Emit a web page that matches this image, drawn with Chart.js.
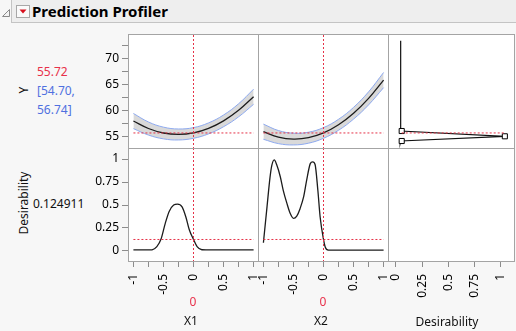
<!DOCTYPE html>
<html>
<head>
<meta charset="utf-8">
<title>Prediction Profiler</title>
<script src="https://cdn.jsdelivr.net/npm/chart.js@4.4.1/dist/chart.umd.min.js"></script>
<style>
  html, body { margin: 0; padding: 0; }
  body { width: 516px; height: 331px; background: #f7f7f7; position: relative; overflow: hidden;
         font-family: "Noto Sans", "Open Sans", sans-serif; font-size: 12px; color: #111; }
  .abs { position: absolute; white-space: nowrap; }
  .hdr { left: 11px; top: 0; width: 505px; height: 23px; background: #eeeeee; box-sizing: border-box;
         border-left: 1px solid #c4c4c4; border-bottom: 1px solid #c4c4c4; }
  .title { left: 32px; top: 0; font-weight: bold; font-size: 15px; line-height: 22px; color: #000; }
  .rot { transform: translate(-50%, -50%) rotate(-90deg); }
  .ctr { transform: translate(-50%, -50%); }
  .vmid { transform: translateY(-50%); }
  .red { color: #e8304a; }
  .blue { color: #4f70e0; }
  canvas { position: absolute; }
</style>
</head>
<body>
<div class="abs hdr"></div>
<svg class="abs" style="left:1px;top:8px" width="10" height="10"><polygon points="8.5,1.5 8.5,8.5 1.5,8.5" fill="#f4f4f4" stroke="#8a8a8a"/></svg>
<svg class="abs" style="left:16px;top:5px" width="14" height="13"><rect x="0.5" y="0.5" width="13" height="12" fill="#fafafa" stroke="#a8a8a8"/><polygon points="3.5,4.5 10.5,4.5 7,8.5" fill="#d8101e"/></svg>
<div class="abs title">Prediction Profiler</div>

<div class="abs rot" style="left:23px;top:90px">Y</div>
<div class="abs vmid red" style="left:37px;top:71px">55.72</div>
<div class="abs vmid blue" style="left:37px;top:90px">[54.70,</div>
<div class="abs vmid blue" style="left:37px;top:109px">56.74]</div>
<div class="abs rot" style="left:23px;top:203px">Desirability</div>
<div class="abs vmid" style="left:33px;top:203px">0.124911</div>

<canvas id="cA" width="179" height="115" style="left:80px;top:34px"></canvas>
<canvas id="cB" width="131" height="115" style="left:258px;top:34px"></canvas>
<canvas id="cC" width="127" height="115" style="left:388px;top:34px"></canvas>
<canvas id="cD" width="179" height="154" style="left:80px;top:148px"></canvas>
<canvas id="cE" width="131" height="154" style="left:258px;top:148px"></canvas>
<canvas id="cF" width="127" height="154" style="left:388px;top:148px"></canvas>

<div class="abs ctr red" style="left:193px;top:301px">0</div>
<div class="abs ctr" style="left:191px;top:320px">X1</div>
<div class="abs ctr red" style="left:323px;top:301px">0</div>
<div class="abs ctr" style="left:321px;top:320px">X2</div>
<div class="abs ctr" style="left:447px;top:321px">Desirability</div>

<script>
// current settings
const x1Now = 0;
const x2Now = 0;
const yNow = 55.72;
const desNow = 0.124911;

// factor grid for the response traces
const xGrid = [-1, -0.75, -0.5, -0.25, 0, 0.25, 0.5, 0.75, 1];
const yByX1 = [58.0, 56.57, 55.71, 55.43, 55.72, 56.59, 58.03, 60.05, 62.65];
const yByX1Hi = [59.45, 57.82, 56.83, 56.48, 56.74, 57.64, 59.15, 61.30, 64.10];
const yByX1Lo = [56.55, 55.32, 54.59, 54.38, 54.70, 55.54, 56.91, 58.80, 61.20];
const yByX2 = [55.96, 54.93, 54.55, 54.81, 55.72, 57.28, 59.49, 62.34, 65.84];
const yByX2Hi = [57.41, 56.18, 55.67, 55.86, 56.74, 58.33, 60.61, 63.59, 67.29];
const yByX2Lo = [54.51, 53.68, 53.43, 53.76, 54.70, 56.23, 58.37, 61.09, 64.39];

// desirability traces
const x1Des = [-1, -0.75, -0.69, -0.61, -0.54, -0.47, -0.405, -0.33, -0.267, -0.19, -0.127, -0.07, 0, 0.06, 0.14, 0.3, 1];
const desByX1 = [0.011, 0.011, 0.013, 0.047, 0.13, 0.30, 0.43, 0.50, 0.51, 0.48, 0.37, 0.23, 0.125, 0.047, 0.013, 0.011, 0.011];
const x2Des = [-1, -0.94, -0.89, -0.86, -0.82, -0.78, -0.72, -0.67, -0.61, -0.555, -0.5, -0.445, -0.39, -0.33, -0.28, -0.22, -0.18, -0.14, -0.094, -0.056, 0, 0.03, 0.08, 0.2, 1];
const desByX2 = [0.09, 0.48, 0.8, 0.93, 0.99, 0.94, 0.81, 0.66, 0.52, 0.41, 0.355, 0.38, 0.46, 0.59, 0.77, 0.95, 0.97, 0.94, 0.66, 0.37, 0.125, 0.04, 0.01, 0.01, 0.01];

// desirability function of Y
const desFnD = [0.045, 0.045, 1.04, 0.045, 0.04];
const desFnY = [73.35, 56.09, 55.08, 54.18, 53.74];
const handleD = [0.055, 1.04, 0.055];
const handleY = [56.09, 55.08, 54.18];

// axes
const factorTicks = [-1, -0.75, -0.5, -0.25, 0, 0.25, 0.5, 0.75, 1];
const factorLabels = [-1, -0.5, 0, 0.5, 1];
const yTicks = [55, 57.5, 60, 62.5, 65, 67.5, 70, 72.5];
const yLabels = [55, 60, 65, 70];
const desTicks = [0, 0.25, 0.5, 0.75, 1];
const fRange = [-1.09, 1.09];
const yRange = [52.65, 74.65];
const dRange = [-0.12, 1.12];
const dxRange = [-0.076, 1.137];

const red = '#e53248';
const bandEdge = '#8eaaf0';
const bandFill = '#d9d9d9';
const tickGray = '#8c8c8c';

Chart.defaults.font.family = '"Noto Sans", "Open Sans", sans-serif';
Chart.defaults.font.size = 12;
Chart.defaults.color = '#000';

const panelBox = {
  id: 'panelBox',
  beforeDraw(chart) {
    const a = chart.chartArea, c = chart.ctx;
    c.save();
    c.fillStyle = '#fff';
    c.fillRect(a.left, a.top, a.right - a.left, a.bottom - a.top);
    c.restore();
  },
  afterDraw(chart) {
    const a = chart.chartArea, c = chart.ctx;
    c.save();
    c.strokeStyle = '#a4a4a4';
    c.lineWidth = 1;
    c.strokeRect(a.left + 0.5, a.top + 0.5, a.right - a.left - 1, a.bottom - a.top - 1);
    c.restore();
  }
};

function pts(xs, ys) {
  return xs.map((x, i) => ({ x, y: ys[i] }));
}

function hidden(range) {
  return { type: 'linear', display: false, min: range[0], max: range[1] };
}

function yAxis(range, ticks, labelled) {
  return {
    type: 'linear', min: range[0], max: range[1],
    border: { display: false },
    grid: { drawOnChartArea: false, tickLength: 6, color: tickGray },
    ticks: { autoSkip: false, padding: 3, callback: v => labelled.includes(v) ? String(v) : '' },
    afterBuildTicks: s => { s.ticks = ticks.map(v => ({ value: v })); },
    afterFit: s => { s.width = 48; s.paddingTop = 0; s.paddingBottom = 0; }
  };
}

function xAxis(range, ticks, labelled) {
  return {
    type: 'linear', position: 'bottom', min: range[0], max: range[1],
    border: { display: false },
    grid: { drawOnChartArea: false, tickLength: 5, color: tickGray },
    ticks: { autoSkip: false, minRotation: 90, maxRotation: 90, padding: 7,
             callback: v => labelled.includes(v) ? String(v) : '' },
    afterBuildTicks: s => { s.ticks = ticks.map(v => ({ value: v })); },
    afterFit: s => { s.height = 40; s.paddingLeft = 0; s.paddingRight = 0; }
  };
}

function refLine(data) {
  return { data, borderColor: red, borderWidth: 1, borderDash: [2, 2], order: 0 };
}

function profileSets(xs, mid, hi, lo, xNow) {
  return [
    { data: pts(xs, hi), borderColor: bandEdge, backgroundColor: bandFill, fill: '+1', tension: 0.4, order: 3 },
    { data: pts(xs, lo), borderColor: bandEdge, tension: 0.4, order: 2 },
    { data: pts(xs, mid), borderColor: '#1c1c1c', borderWidth: 1.3, tension: 0.4, order: 1 },
    refLine([{ x: -1, y: yNow }, { x: 1, y: yNow }]),
    refLine([{ x: xNow, y: yRange[0] }, { x: xNow, y: yRange[1] }])
  ];
}

function desSets(xs, ds, xNow) {
  return [
    { data: pts(xs, ds), borderColor: '#1c1c1c', borderWidth: 1.3, cubicInterpolationMode: 'monotone', order: 1 },
    refLine([{ x: -1, y: desNow }, { x: 1, y: desNow }]),
    refLine([{ x: xNow, y: dRange[0] }, { x: xNow, y: dRange[1] }])
  ];
}

function panel(id, datasets, xs, ys) {
  return new Chart(document.getElementById(id), {
    type: 'line',
    data: { datasets },
    options: {
      responsive: false,
      animation: false,
      events: [],
      layout: { padding: 0, autoPadding: false },
      elements: { point: { radius: 0 }, line: { borderWidth: 1 } },
      plugins: { legend: { display: false }, tooltip: { enabled: false } },
      scales: { x: xs, y: ys }
    },
    plugins: [panelBox]
  });
}

panel('cA', profileSets(xGrid, yByX1, yByX1Hi, yByX1Lo, x1Now), hidden(fRange), yAxis(yRange, yTicks, yLabels));
panel('cB', profileSets(xGrid, yByX2, yByX2Hi, yByX2Lo, x2Now), hidden(fRange), hidden(yRange));

panel('cC', [
  refLine([{ x: handleD[0], y: yNow }, { x: handleD[1], y: yNow }]),
  { data: pts(desFnD, desFnY), borderColor: '#111', borderWidth: 1.2, order: 1 },
  { data: pts(handleD, handleY), showLine: false, pointStyle: 'rect', pointRadius: 3.6,
    pointBackgroundColor: '#fff', pointBorderColor: '#000', pointBorderWidth: 1, order: 0 }
], hidden(dxRange), hidden(yRange));

panel('cD', desSets(x1Des, desByX1, x1Now), xAxis(fRange, factorTicks, factorLabels), yAxis(dRange, desTicks, desTicks));
panel('cE', desSets(x2Des, desByX2, x2Now), xAxis(fRange, factorTicks, factorLabels), hidden(dRange));
panel('cF', [], xAxis(dxRange, desTicks, desTicks), hidden(dRange));
</script>
</body>
</html>
